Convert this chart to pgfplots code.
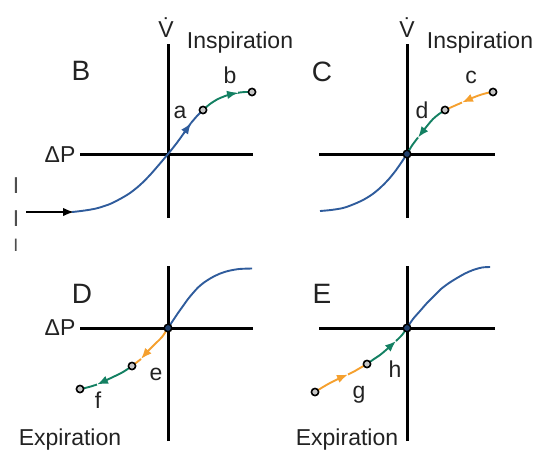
\documentclass[border=0pt]{standalone}
\usepackage{pgfplots}
\pgfplotsset{compat=1.18}
\usepackage{fontspec}
\setmainfont{Liberation Sans}
\usetikzlibrary{arrows.meta}

\definecolor{curveblue}{HTML}{2F5C9C}
\definecolor{flowgreen}{HTML}{138062}
\definecolor{floworange}{HTML}{F5A02E}
\definecolor{ink}{HTML}{222222}

% one pressure-flow panel: 1 data unit = 1pt, origin at the crossing
\pgfplotsset{
  loop panel/.style={
    hide axis, scale only axis, x=1pt, y=1pt, clip=false,
    enlargelimits=false, anchor=south west,
  },
  cross/.style={black, line width=3pt, no marks},
  curve/.style={curveblue, line width=1.9pt, smooth, no marks},
  gpath/.style={flowgreen, line width=1.9pt, smooth, no marks},
  opath/.style={floworange, line width=1.9pt, smooth, no marks},
  tip/.style={-{Latex[length=11pt,width=8.5pt]}},
  state/.style={only marks, mark=*, mark size=3.6pt,
    mark options={draw=black, fill=gray!45, line width=1.6pt}},
  zero/.style={only marks, mark=*, mark size=3.8pt,
    mark options={draw=black, fill=curveblue!70!black, line width=1.5pt}},
}
\tikzset{
  lab/.style={font=\fontsize{23}{27}\selectfont, text=ink, anchor=base, inner sep=0pt},
  big/.style={font=\fontsize{28}{32}\selectfont, text=ink, anchor=base, inner sep=0pt},
}

\begin{document}
\begin{tikzpicture}
\useasboundingbox (0pt,0pt) rectangle (534pt,-451pt);

% ---------- B: inspiration along the curve ----------
\begin{axis}[loop panel, at={(80pt,-218pt)}, xmin=-88, xmax=85, ymin=-64, ymax=110]
  \addplot[cross] coordinates {(-88,0) (85,0)};
  \addplot[cross] coordinates {(0,-64) (0,110)};
  \addplot[black, line width=1.7pt, no marks, tip] coordinates {(-142,-58) (-94,-58)};
  \addplot[curve] coordinates {(-96,-58) (-91,-57.5) (-80,-56) (-70,-54) (-58,-50)
    (-48,-45) (-38,-39) (-28,-31) (-18,-21) (-8,-9.5) (0,0) (8,10) (16,21) (23,31)};
  \addplot[curveblue, line width=1.9pt, no marks, tip] coordinates {(16,21) (23,31)};
  \addplot[curve] coordinates {(23,31) (29,38) (35,44)};
  \addplot[gpath, tip] coordinates {(35,44) (42,50) (50,55) (60,59) (70,61.3)};
  \addplot[gpath] coordinates {(70,61.3) (77,62) (84,62)};
  \addplot[state] coordinates {(35,44) (84,62)};
\end{axis}

% ---------- C: return along the curve ----------
\begin{axis}[loop panel, at={(319pt,-218pt)}, xmin=-88, xmax=88, ymin=-64, ymax=110]
  \addplot[cross] coordinates {(-88,0) (88,0)};
  \addplot[cross] coordinates {(0,-64) (0,110)};
  \addplot[curve] coordinates {(-87,-57) (-76,-56) (-64,-54) (-54,-50.5) (-44,-46)
    (-35,-40.5) (-27,-34) (-19,-26) (-12,-17.5) (-6,-9) (0,0)};
  \addplot[opath, tip] coordinates {(86,62) (80,61) (73,59) (65,56) (55,51.5)};
  \addplot[opath] coordinates {(55,51.5) (47,48) (38,44)};
  \addplot[gpath, tip] coordinates {(38,44) (32,40) (26,35) (20,28) (11,16.5)};
  \addplot[gpath] coordinates {(11,16.5) (5,8.5) (0,0)};
  \addplot[state] coordinates {(86,62) (38,44)};
  \addplot[zero] coordinates {(0,0)};
\end{axis}

% ---------- D: expiration away from zero ----------
\begin{axis}[loop panel, at={(80pt,-441pt)}, xmin=-88, xmax=85, ymin=-113, ymax=62]
  \addplot[cross] coordinates {(-88,0) (85,0)};
  \addplot[cross] coordinates {(0,-113) (0,62)};
  \addplot[curve] coordinates {(0,0) (5,7.5) (10,15) (15,22) (20,29) (25,35)
    (30,40.5) (36,45.5) (43,50) (51,54) (60,57) (71,59) (84,59.5)};
  \addplot[opath, tip] coordinates {(0,0) (-6,-9) (-12,-15) (-19,-22) (-27,-31)};
  \addplot[opath] coordinates {(-27,-31) (-31.5,-34.5) (-36,-38)};
  \addplot[gpath, tip] coordinates {(-36,-38) (-45,-44) (-55,-49) (-71,-56.5)};
  \addplot[gpath] coordinates {(-71,-56.5) (-79,-59) (-88,-61)};
  \addplot[state] coordinates {(-36,-38) (-88,-61)};
  \addplot[zero] coordinates {(0,0)};
\end{axis}

% ---------- E: expiration back to zero ----------
\begin{axis}[loop panel, at={(319pt,-441pt)}, xmin=-88, xmax=88, ymin=-113, ymax=62]
  \addplot[cross] coordinates {(-88,0) (88,0)};
  \addplot[cross] coordinates {(0,-113) (0,62)};
  \addplot[curve] coordinates {(0,0) (6,9) (13,17) (20,25) (27,32) (34,39) (42,45)
    (50,50) (58,54.5) (66,58) (75,60.5) (83,61)};
  \addplot[opath, tip] coordinates {(-92,-64) (-84,-59) (-77,-55) (-67,-50) (-59,-46.5)};
  \addplot[opath] coordinates {(-59,-46.5) (-53,-43.5) (-47,-40) (-40,-36)};
  \addplot[gpath, tip] coordinates {(-40,-36) (-33,-31) (-27,-27) (-21,-22) (-11,-13)};
  \addplot[gpath] coordinates {(-11,-13) (-5,-7) (0,0)};
  \addplot[state] coordinates {(-92,-64) (-40,-36)};
  \addplot[zero] coordinates {(0,0)};
\end{axis}

% ---------- labels ----------
\node[big] at (81pt,-80pt) {B};
\node[big] at (322pt,-81pt) {C};
\node[big] at (82pt,-303pt) {D};
\node[big] at (322pt,-303pt) {E};

% flow symbol (V with combining dot above)
\node[lab] at (166pt,-37pt) {V̇};
\node[lab] at (407pt,-37pt) {V̇};

\node[lab] at (240pt,-48pt) {Inspiration};
\node[lab] at (480pt,-48pt) {Inspiration};
\node[lab] at (70pt,-445pt) {Expiration};
\node[lab] at (347pt,-445pt) {Expiration};
\node[lab] at (60pt,-162pt) {ΔP};
\node[lab] at (60pt,-335pt) {ΔP};

\node[lab] at (180pt,-118pt) {a};
\node[lab] at (230pt,-83pt) {b};
\node[lab] at (471pt,-83pt) {c};
\node[lab] at (422pt,-118pt) {d};
\node[lab] at (156pt,-380pt) {e};
\node[lab] at (98pt,-408pt) {f};
\node[lab] at (359pt,-398pt) {g};
\node[lab] at (395pt,-377pt) {h};

% clipped letters at the left margin
\node[lab, text=ink!80] at (16pt,-193pt) {I};
\node[lab, text=ink!80] at (16pt,-226pt) {I};
\node[lab, text=ink!80, font=\fontsize{18}{20}\selectfont] at (16pt,-251pt) {I};
\end{tikzpicture}
\end{document}
